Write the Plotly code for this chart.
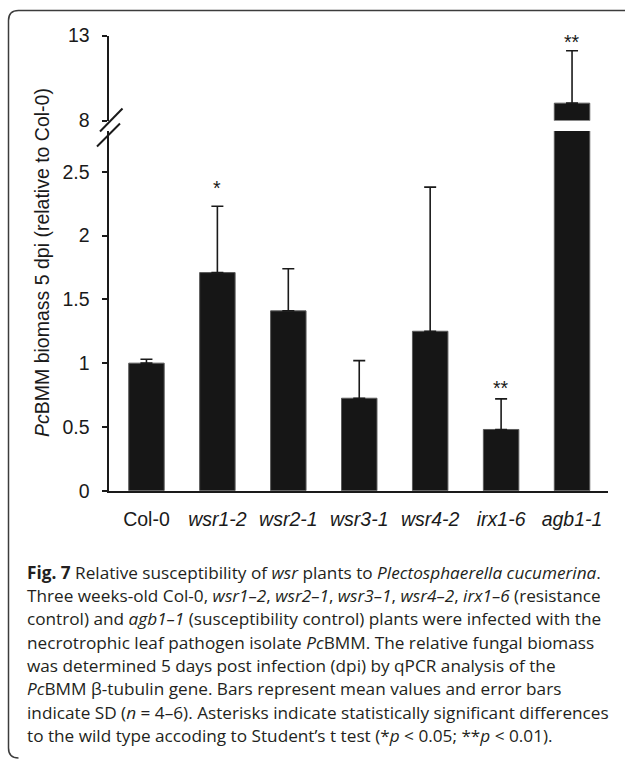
import plotly.graph_objects as go

# ---------------- data ----------------
categories = ["Col-0", "wsr1-2", "wsr2-1", "wsr3-1", "wsr4-2", "irx1-6", "agb1-1"]
tick_labels = ["Col-0", "<i>wsr1-2</i>", "<i>wsr2-1</i>", "<i>wsr3-1</i>",
               "<i>wsr4-2</i>", "<i>irx1-6</i>", "<i>agb1-1</i>"]
means = [1.00, 1.71, 1.41, 0.725, 1.25, 0.48, 9.02]
sd = [0.03, 0.52, 0.33, 0.295, 1.13, 0.24, 3.08]
significance = ["", "*", "", "", "", "**", "**"]

lower_ticks = [0, 0.5, 1, 1.5, 2, 2.5]
lower_tick_text = ["0", "0.5", "1", "1.5", "2", "2.5"]
upper_ticks = [8, 13]
upper_tick_text = ["8", "13"]

y_title = "<i>Pc</i>BMM biomass 5 dpi (relative to Col-0)"

caption_lines = [
    "<b>Fig. 7</b> Relative susceptibility of <i>wsr</i> plants to <i>Plectosphaerella cucumerina</i>.",
    "Three weeks-old Col-0, <i>wsr1–2</i>, <i>wsr2–1</i>, <i>wsr3–1</i>, <i>wsr4–2</i>, <i>irx1–6</i> (resistance",
    "control) and <i>agb1–1</i> (susceptibility control) plants were infected with the",
    "necrotrophic leaf pathogen isolate <i>Pc</i>BMM. The relative fungal biomass",
    "was determined 5 days post infection (dpi) by qPCR analysis of the",
    "<i>Pc</i>BMM β-tubulin gene. Bars represent mean values and error bars",
    "indicate SD (<i>n</i> = 4–6). Asterisks indicate statistically significant differences",
    "to the wild type accoding to Student’s t test (*<i>p</i> &lt; 0.05; **<i>p</i> &lt; 0.01).",
]

# ---------------- geometry helpers ----------------
W, H = 625, 761
def px(x):
    return x / W
def py(y):
    return 1 - y / H

INK = "#1a1a1a"
CHART_FONT = "Liberation Sans, Arial, sans-serif"
FS = 19.5

fig = go.Figure()
for yax in ["y", "y2"]:
    fig.add_trace(go.Bar(
        x=categories, y=means, yaxis=yax, xaxis="x",
        marker=dict(color="#161616", line=dict(color="#5a5a5a", width=1)),
        error_y=dict(type="data", symmetric=False, array=sd,
                     arrayminus=[0] * len(sd), color=INK, thickness=1.6, width=6),
        hoverinfo="skip", showlegend=False,
    ))

axis_common = dict(showline=True, linecolor=INK, linewidth=2, showgrid=False,
                   zeroline=False, ticks="outside", ticklen=5, tickwidth=2,
                   tickcolor=INK, tickfont=dict(family=CHART_FONT, size=FS, color=INK),
                   ticklabelstandoff=8, automargin=False)

fig.update_layout(
    width=W, height=H, margin=dict(l=0, r=0, t=0, b=0, autoexpand=False),
    paper_bgcolor="white", plot_bgcolor="white",
    bargap=0.5, showlegend=False,
    xaxis=dict(domain=[px(108.5), px(608)], range=[-0.535, 6.507], type="category",
               tickvals=categories, ticktext=tick_labels, showline=True, linecolor=INK,
               linewidth=2, ticks="", showgrid=False, zeroline=False, anchor="y",
               automargin=False,
               tickfont=dict(family=CHART_FONT, size=FS, color=INK), ticklabelstandoff=10),
    yaxis=dict(domain=[py(490.7), py(131)], range=[0, 2.82], tickvals=lower_ticks,
               ticktext=lower_tick_text, anchor="x", **axis_common),
    yaxis2=dict(domain=[py(120.5), py(35.5)], range=[8, 13], tickvals=upper_ticks,
                ticktext=upper_tick_text, anchor="x", **axis_common),
)

annotations = []
# y-axis title
annotations.append(dict(text=y_title, xref="paper", yref="paper", x=px(42), y=py(263),
                        textangle=-90, showarrow=False, xanchor="center", yanchor="middle",
                        font=dict(family=CHART_FONT, size=FS, color=INK)))
# significance asterisks above the error bars
star_shift = [0, 18, 0, 0, 0, 11, 9]
for i, (c, s) in enumerate(zip(categories, significance)):
    if not s:
        continue
    top = means[i] + sd[i]
    annotations.append(dict(text=s, x=c, y=top, xref="x", yref="y2" if top > 8 else "y",
                            showarrow=False, yanchor="middle", yshift=star_shift[i],
                            font=dict(family=CHART_FONT, size=FS, color=INK)))
# caption
line_y = [572, 595, 618.5, 642, 665, 688.5, 712, 735]
for t, yy in zip(caption_lines, line_y):
    annotations.append(dict(text=t, xref="paper", yref="paper", x=px(25), y=py(yy),
                            xanchor="left", yanchor="middle", showarrow=False,
                            font=dict(family="Open Sans, sans-serif", size=17.2, color="#231f20")))
fig.update_layout(annotations=annotations)

shapes = []
# axis-break slashes
for (x0, y0, x1, y1) in [(100, 131.5, 122.5, 108.5), (97, 146.5, 120, 123.5)]:
    shapes.append(dict(type="line", xref="paper", yref="paper",
                       x0=px(x0), y0=py(y0), x1=px(x1), y1=py(y1),
                       line=dict(color=INK, width=2)))
# rounded frame (top + left edges)
r = 10
fl, ft, fb = 8.5, 10.5, 758
path = (f"M {px(625)},{py(ft)} L {px(fl + r)},{py(ft)} Q {px(fl)},{py(ft)} {px(fl)},{py(ft + r)} "
        f"L {px(fl)},{py(fb - r)} Q {px(fl)},{py(fb)} {px(fl + r)},{py(fb)}")
shapes.append(dict(type="path", path=path, xref="paper", yref="paper",
                   line=dict(color="#3c3c3c", width=1.5)))
fig.update_layout(shapes=shapes)

fig.write_html("out.html")
